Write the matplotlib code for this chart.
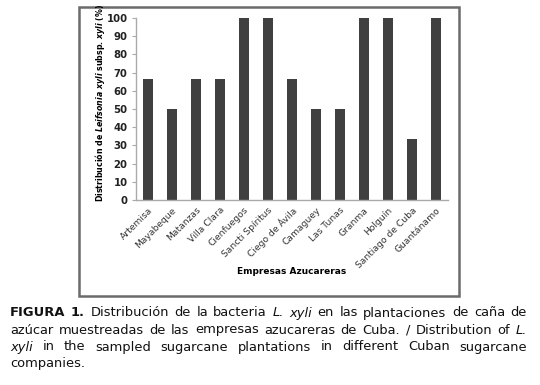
import matplotlib
matplotlib.use("Agg")
import matplotlib.pyplot as plt
from matplotlib.patches import Rectangle

empresas = ["Artemisa", "Mayabeque", "Matanzas", "Villa Clara", "Cienfuegos",
            "Sancti Spíritus", "Ciego de Ávila", "Camaguey", "Las Tunas",
            "Granma", "Holguín", "Santiago de Cuba", "Guantánamo"]
distribucion = [66.7, 50, 66.7, 66.7, 100, 100, 66.7, 50, 50, 100, 100, 33.3, 100]
yticks = list(range(0, 101, 10))

# caption lines: (word, weight, style)
caption = [
    [("FIGURA", "bold", "normal"), ("1.", "bold", "normal"), ("Distribución", "normal", "normal"),
     ("de", "normal", "normal"), ("la", "normal", "normal"), ("bacteria", "normal", "normal"),
     ("L.", "normal", "italic"), ("xyli", "normal", "italic"), ("en", "normal", "normal"),
     ("las", "normal", "normal"), ("plantaciones", "normal", "normal"), ("de", "normal", "normal"),
     ("caña", "normal", "normal"), ("de", "normal", "normal")],
    [(w, "normal", "normal") for w in "azúcar muestreadas de las empresas azucareras de Cuba. / Distribution of".split()]
    + [("L.", "normal", "italic")],
    [("xyli", "normal", "italic")] + [(w, "normal", "normal") for w in "in the sampled sugarcane plantations in different Cuban sugarcane".split()],
    [("companies.", "normal", "normal")],
]

plt.rcParams["mathtext.fontset"] = "custom"
plt.rcParams["mathtext.it"] = "DejaVu Sans:italic:bold"
plt.rcParams["mathtext.rm"] = "DejaVu Sans:bold"

fig = plt.figure(figsize=(5.4, 3.85), dpi=100)
fig.patch.set_facecolor("white")

# outer frame around the chart
fig.patches.append(Rectangle((79 / 540, 1 - 296 / 385), 380 / 540, 289 / 385,
                             transform=fig.transFigure, fill=False,
                             edgecolor="#6b6b6b", linewidth=1.8))

ax = fig.add_axes([136 / 540, 1 - 200 / 385, 312 / 540, 182 / 385])
x = range(len(empresas))
ax.bar(x, distribucion, width=0.42, color="#404040")
ax.set_xlim(-0.5, len(empresas) - 0.5)
ax.set_ylim(0, 100)
ax.set_yticks(yticks)
ax.set_yticklabels([str(v) for v in yticks], fontsize=7.3, fontweight="bold", color="#222222")
ax.set_xticks(list(x))
ax.set_xticklabels(empresas, rotation=45, ha="right", rotation_mode="anchor",
                   fontsize=6.6, color="#333333")
ax.tick_params(axis="x", length=0, pad=4)
ax.tick_params(axis="y", length=3, color="#aaaaaa", pad=3)
for s in ["top", "right"]:
    ax.spines[s].set_visible(False)
for s in ["left", "bottom"]:
    ax.spines[s].set_color("#aaaaaa")
    ax.spines[s].set_linewidth(1.0)

fig.text(100 / 540, 1 - 103 / 385,
         r"Distribución de $\it{Leifsonia\ xyli}$ subsp. $\it{xyli}$ (%)",
         fontsize=5.7, fontweight="bold", rotation=90, ha="center", va="center")
fig.text(292 / 540, 1 - 272 / 385, "Empresas Azucareras", fontsize=6.5,
         fontweight="bold", ha="center", va="center")

# justified caption
renderer = fig.canvas.get_renderer()
left_px, right_px = 10, 527
line_y = [313, 330, 347, 363]
for i, line in enumerate(caption):
    texts = []
    for w, wt, st in line:
        t = fig.text(0, 1 - line_y[i] / 385, w, fontsize=9.4, fontweight=wt,
                     fontstyle=st, ha="left", va="center", color="#111111")
        texts.append(t)
    widths = [t.get_window_extent(renderer).width for t in texts]
    if i < len(caption) - 1 and len(texts) > 1:
        gap = (right_px - left_px - sum(widths)) / (len(texts) - 1)
    else:
        gap = 4.5
    xpos = left_px
    for t, wdt in zip(texts, widths):
        t.set_x(xpos / 540)
        xpos += wdt + gap

fig.savefig("out.png", dpi=100, facecolor="white")
